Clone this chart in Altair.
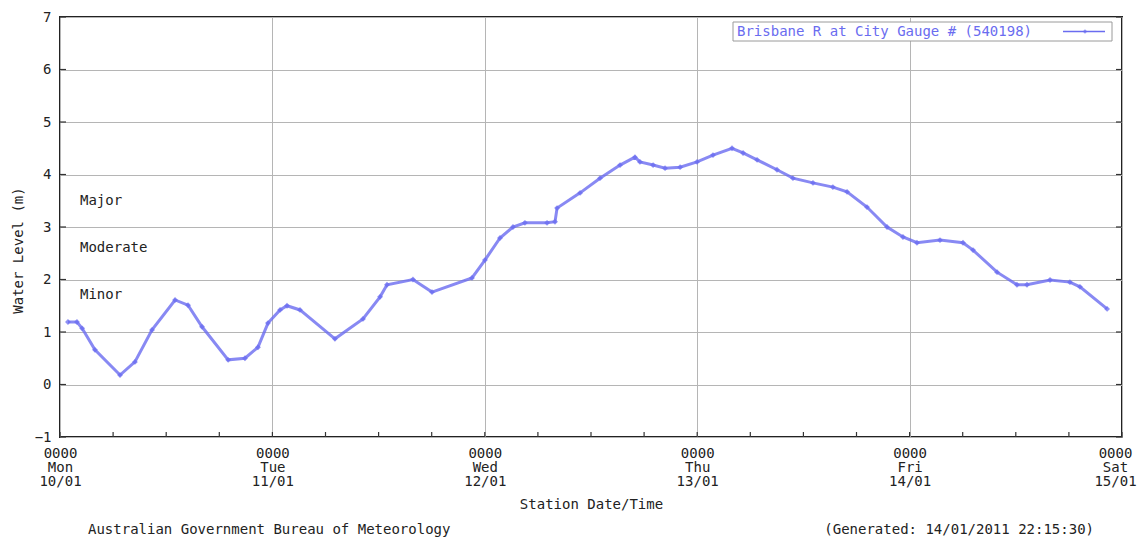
import altair as alt
import pandas as pd

# ---- data ----
times = [
    "2011-01-10T00:54", "2011-01-10T01:55", "2011-01-10T02:30", "2011-01-10T03:57",
    "2011-01-10T06:47", "2011-01-10T08:28", "2011-01-10T10:24", "2011-01-10T13:00",
    "2011-01-10T14:28", "2011-01-10T16:03", "2011-01-10T19:00", "2011-01-10T20:54",
    "2011-01-10T22:22", "2011-01-10T23:30", "2011-01-11T00:52", "2011-01-11T01:39",
    "2011-01-11T03:07", "2011-01-11T07:04", "2011-01-11T10:14", "2011-01-11T12:10",
    "2011-01-11T12:57", "2011-01-11T15:53", "2011-01-11T18:02", "2011-01-11T22:33",
    "2011-01-12T00:01", "2011-01-12T01:43", "2011-01-12T03:11", "2011-01-12T04:32",
    "2011-01-12T07:02", "2011-01-12T07:56", "2011-01-12T08:10", "2011-01-12T10:46",
    "2011-01-12T13:01", "2011-01-12T15:17", "2011-01-12T16:58", "2011-01-12T17:32",
    "2011-01-12T19:01", "2011-01-12T20:22", "2011-01-12T22:04", "2011-01-12T23:59",
    "2011-01-13T01:47", "2011-01-13T03:56", "2011-01-13T05:11", "2011-01-13T06:46",
    "2011-01-13T09:01", "2011-01-13T10:49", "2011-01-13T13:05", "2011-01-13T15:20",
    "2011-01-13T16:56", "2011-01-13T19:11", "2011-01-13T21:27", "2011-01-13T23:15",
    "2011-01-14T00:50", "2011-01-14T03:26", "2011-01-14T06:02", "2011-01-14T07:10",
    "2011-01-14T09:53", "2011-01-14T12:08", "2011-01-14T13:16", "2011-01-14T15:52",
    "2011-01-14T18:07", "2011-01-14T19:15", "2011-01-14T22:19",
]
levels = [
    1.19, 1.19, 1.07, 0.66, 0.18, 0.43, 1.04, 1.61, 1.51, 1.10, 0.47, 0.50,
    0.71, 1.17, 1.42, 1.50, 1.42, 0.87, 1.25, 1.67, 1.90, 2.00, 1.76, 2.03,
    2.37, 2.79, 3.00, 3.08, 3.08, 3.10, 3.36, 3.65, 3.93, 4.18, 4.33, 4.24,
    4.18, 4.12, 4.14, 4.24, 4.37, 4.50, 4.41, 4.28, 4.09, 3.93, 3.84, 3.76,
    3.67, 3.38, 3.00, 2.81, 2.70, 2.75, 2.70, 2.56, 2.14, 1.90, 1.90, 1.99,
    1.95, 1.86, 1.44,
]
series_name = "Brisbane R at City Gauge # (540198)"
flood_labels = ["Major", "Moderate", "Minor"]
flood_levels = [3.5, 2.6, 1.7]
y_ticks = [-1, 0, 1, 2, 3, 4, 5, 6, 7]
day_ticks = [alt.DateTime(year=2011, month=1, date=d, hours=0) for d in range(10, 16)]
minor_ticks = pd.date_range("2011-01-10 00:00", "2011-01-15 00:00", freq="6h").strftime("%Y-%m-%dT%H:%M").tolist()
footer_left = "Australian Government Bureau of Meteorology"
footer_right = "(Generated: 14/01/2011 22:15:30)"

# ---- styling ----
W, H = 1062, 420
FONT = "DejaVu Sans Mono"
FS = 14
BLUE = "#6a6cf0"

df = pd.DataFrame({"time": times, "level": levels})
xscale = alt.Scale(domain=[day_ticks[0], day_ticks[-1]])
yscale = alt.Scale(domain=[-1, 7], nice=False, zero=False)

line = alt.Chart(df).mark_line(
    color=BLUE, strokeWidth=3, opacity=0.8,
    point=alt.OverlayMarkDef(shape="diamond", size=34, filled=True, color=BLUE, opacity=0.75),
).encode(
    x=alt.X("time:T", scale=xscale, title="Station Date/Time",
            axis=alt.Axis(values=day_ticks, grid=True, gridColor="#b5b5b5", gridWidth=1,
                          tickSize=0, domain=False, labelFlush=False, labelOverlap=False,
                          labelExpr="[timeFormat(datum.value, '%H%M'), timeFormat(datum.value, '%a'), timeFormat(datum.value, '%d/%m')]",
                          labelPadding=9, labelLineHeight=14, labelAlign="center",
                          labelOffset={"condition": {"test": "datum.index == 1", "value": -7}, "value": 0},
                          titlePadding=9)),
    y=alt.Y("level:Q", scale=yscale, title="Water Level (m)",
            axis=alt.Axis(values=y_ticks, grid=True, gridColor="#b5b5b5", gridWidth=1,
                          tickSize=0, domain=False, labelPadding=9,
                          titleX=-35, titleY=233)),
)

flood = alt.Chart(pd.DataFrame({"label": flood_labels, "level": flood_levels})).mark_text(
    font=FONT, fontSize=FS, align="left", baseline="middle", color="#222"
).encode(x=alt.value(20), y=alt.Y("level:Q", scale=yscale), text="label:N")

xt = alt.Chart(pd.DataFrame({"time": minor_ticks})).mark_rule(color="#333", strokeWidth=1.2).encode(
    x=alt.X("time:T", scale=xscale), y=alt.value(H), y2=alt.value(H - 5))

yt_df = pd.DataFrame({"level": y_ticks})
ytl = alt.Chart(yt_df).mark_rule(color="#333", strokeWidth=1.2).encode(
    y=alt.Y("level:Q", scale=yscale), x=alt.value(0), x2=alt.value(6))
ytr = alt.Chart(yt_df).mark_rule(color="#333", strokeWidth=1.2).encode(
    y=alt.Y("level:Q", scale=yscale), x=alt.value(W - 6), x2=alt.value(W))

leg_df = pd.DataFrame({"label": [series_name]})
leg_box = alt.Chart(leg_df).mark_rect(fill="white", stroke="#9a9a9a", strokeWidth=1).encode(
    x=alt.value(673), x2=alt.value(1052), y=alt.value(5), y2=alt.value(24))
leg_text = alt.Chart(leg_df).mark_text(font=FONT, fontSize=FS, align="left", baseline="middle", color=BLUE).encode(
    x=alt.value(677), y=alt.value(14.5), text="label:N")
leg_line = alt.Chart(leg_df).mark_rule(color=BLUE, strokeWidth=1.5).encode(
    x=alt.value(1003), x2=alt.value(1045), y=alt.value(14.5))
leg_pt = alt.Chart(leg_df).mark_point(shape="diamond", size=22, filled=True, color=BLUE).encode(
    x=alt.value(1025), y=alt.value(14.5))

foot_df = pd.DataFrame({"l": [footer_left], "r": [footer_right]})
foot_l = alt.Chart(foot_df).mark_text(font=FONT, fontSize=FS, align="left", baseline="middle", color="#222").encode(
    x=alt.value(28), y=alt.value(513), text="l:N")
foot_r = alt.Chart(foot_df).mark_text(font=FONT, fontSize=FS, align="right", baseline="middle", color="#222").encode(
    x=alt.value(1034), y=alt.value(513), text="r:N")

chart = alt.layer(
    line, flood, xt, ytl, ytr, leg_box, leg_text, leg_line, leg_pt, foot_l, foot_r
).properties(
    width=W, height=H,
    background="white",
    autosize=alt.AutoSizeParams(type="none"),
    padding={"left": 52, "top": 9, "right": 15, "bottom": 100},
).configure_view(
    stroke="#222", strokeWidth=2
).configure_axis(
    labelFont=FONT, labelFontSize=FS, labelColor="#222",
    titleFont=FONT, titleFontSize=FS, titleColor="#222", titleFontWeight="normal",
)

chart.save("out.html", embed_options={"renderer": "svg", "actions": False})
